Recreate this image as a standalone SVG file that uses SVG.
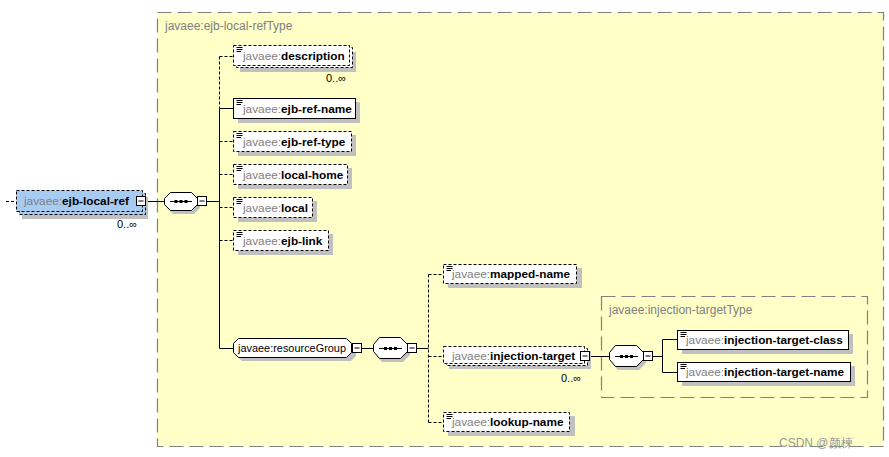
<svg xmlns="http://www.w3.org/2000/svg" width="889" height="457" viewBox="0 0 889 457">
<style>
text{font-family:"Liberation Sans",Arial,sans-serif;}
.lbl{font-size:11.8px;}
.ns{fill:#808080;}
.nm{fill:#000;font-weight:bold;}
.occ{font-size:11px;fill:#000;}
.type{font-size:12px;fill:#808080;}
.shadow{fill:#C0C0C0;stroke:none;}
.opt{fill:#fff;stroke:#000;stroke-width:1;stroke-dasharray:3 2;}
.req{fill:#fff;stroke:#000;stroke-width:1;}
.comp{fill:#fff;stroke:#000;stroke-width:1;}
.mb{fill:#fff;stroke:#000;stroke-width:1;}
.ln{stroke:#000;stroke-width:1;fill:none;}
.dl{stroke:#000;stroke-width:1;fill:none;stroke-dasharray:3 2;}
.box{fill:none;stroke:#808080;stroke-width:1.2;stroke-dasharray:14 6;}
.ic{stroke:#000;stroke-width:1;}
</style>
<defs>
<g id="icon"><path class="ic" d="M2.5 2.5H8.5M2.5 4.5H8.5M2.5 6.5H7"/></g>
<g id="minus"><rect class="mb" x="0.5" y="0.5" width="9" height="9"/><path class="ln" d="M2.5 5H7.5"/></g>
<g id="dots"><rect x="0" y="-1.5" width="3" height="3" fill="#000"/><rect x="5" y="-1.5" width="3" height="3" fill="#000"/><rect x="10" y="-1.5" width="3" height="3" fill="#000"/></g>
</defs>

<g id="type-ejb-local-refType">
<rect x="157.5" y="12.5" width="726" height="434" fill="#FFFFC8" stroke="none"/>
<rect class="box" x="157.5" y="12.5" width="726" height="434"/>
<text class="type" x="165" y="30">javaee:ejb-local-refType</text>
</g>

<g id="type-injection-targetType">
<rect class="box" x="601.5" y="296.5" width="266" height="101"/>
<text class="type" x="609" y="314">javaee:injection-targetType</text>
</g>

<g id="connectors">
<path class="dl" d="M6 201.5H16"/>
<path class="ln" d="M146 201.5H164"/>
<path class="ln" d="M207 201.5H219.5"/>
<path class="dl" d="M219.5 56.5V108.5"/>
<path class="ln" d="M219.5 108.5V348.5"/>
<path class="dl" d="M219.5 56.5H234"/>
<path class="ln" d="M219.5 108.5H234"/>
<path class="dl" d="M219.5 141.5H234M219.5 174.5H234M219.5 207.5H234M219.5 240.5H234"/>
<path class="ln" d="M219.5 348.5H233"/>
<path class="ln" d="M362 348.5H373"/>
<path class="ln" d="M417 348.5H428.5"/>
<path class="dl" d="M428.5 274.5V422.5"/>
<path class="dl" d="M428.5 274.5H443M428.5 356.5H443M428.5 422.5H443"/>
<path class="ln" d="M591 356.5H609"/>
<path class="ln" d="M653 356.5H662.5"/>
<path class="ln" d="M662.5 339.5V372.5M662.5 339.5H677M662.5 372.5H677"/>
</g>

<g id="ejb-local-ref">
<rect class="shadow" x="22" y="197" width="126" height="22"/>
<rect x="19.5" y="193.5" width="126" height="21" fill="#A8CBF2" stroke="#000" stroke-dasharray="3 2"/>
<rect x="16.5" y="190.5" width="126" height="21" fill="#A8CBF2" stroke="#000" stroke-dasharray="3 2"/>
<text class="lbl" x="24" y="205"><tspan class="ns">javaee:</tspan><tspan class="nm">ejb-local-ref</tspan></text>
<use href="#minus" x="136" y="196"/>
<text class="occ" x="117" y="228">0..∞</text>
</g>

<g id="sequence-1">
<polygon class="shadow" points="173,196 194,196 200,202 200,208 194,214 173,214 167,208 167,202"/>
<polygon class="comp" points="170.5,192.5 191.5,192.5 197.5,198.5 197.5,204.5 191.5,210.5 170.5,210.5 164.5,204.5 164.5,198.5"/>
<path class="ln" d="M170 201.5H192"/>
<use href="#dots" x="174.5" y="201.5"/>
<use href="#minus" x="197" y="196"/>
</g>

<g id="description">
<rect class="shadow" x="240" y="52" width="116" height="20"/>
<rect class="opt" x="236.5" y="47.5" width="116" height="20"/>
<rect class="opt" x="233.5" y="45.5" width="116" height="20"/>
<use href="#icon" x="234" y="45"/>
<text class="lbl" x="243" y="60"><tspan class="ns">javaee:</tspan><tspan class="nm">description</tspan></text>
<text class="occ" x="326" y="82">0..∞</text>
</g>

<g id="ejb-ref-name">
<rect class="shadow" x="238" y="102" width="122" height="21"/>
<rect class="req" x="233.5" y="98.5" width="122" height="20"/>
<use href="#icon" x="234" y="98"/>
<text class="lbl" x="243" y="113"><tspan class="ns">javaee:</tspan><tspan class="nm">ejb-ref-name</tspan></text>
</g>

<g id="ejb-ref-type">
<rect class="shadow" x="238" y="135" width="118" height="21"/>
<rect class="opt" x="233.5" y="131.5" width="118" height="20"/>
<use href="#icon" x="234" y="131"/>
<text class="lbl" x="243" y="146"><tspan class="ns">javaee:</tspan><tspan class="nm">ejb-ref-type</tspan></text>
</g>

<g id="local-home">
<rect class="shadow" x="238" y="168" width="114" height="21"/>
<rect class="opt" x="233.5" y="164.5" width="114" height="20"/>
<use href="#icon" x="234" y="164"/>
<text class="lbl" x="243" y="179"><tspan class="ns">javaee:</tspan><tspan class="nm">local-home</tspan></text>
</g>

<g id="local">
<rect class="shadow" x="238" y="201" width="79" height="21"/>
<rect class="opt" x="233.5" y="197.5" width="79" height="20"/>
<use href="#icon" x="234" y="197"/>
<text class="lbl" x="243" y="212"><tspan class="ns">javaee:</tspan><tspan class="nm">local</tspan></text>
</g>

<g id="ejb-link">
<rect class="shadow" x="238" y="234" width="95" height="21"/>
<rect class="opt" x="233.5" y="230.5" width="95" height="20"/>
<use href="#icon" x="234" y="230"/>
<text class="lbl" x="243" y="245"><tspan class="ns">javaee:</tspan><tspan class="nm">ejb-link</tspan></text>
</g>

<g id="resourceGroup">
<polygon class="shadow" points="242,342 351,342 356,347 356,356 351,361 242,361 237,356 237,347"/>
<polygon class="comp" points="238.5,338.5 346.5,338.5 351.5,343.5 351.5,352.5 346.5,357.5 238.5,357.5 233.5,352.5 233.5,343.5"/>
<text class="lbl" x="238" y="352" fill="#000" textLength="108" lengthAdjust="spacingAndGlyphs">javaee:resourceGroup</text>
<use href="#minus" x="352" y="343"/>
</g>

<g id="sequence-2">
<polygon class="shadow" points="382,341 403,341 410,348 410,355 403,362 382,362 376,355 376,348"/>
<polygon class="comp" points="379.5,337.5 400.5,337.5 407.5,344.5 407.5,351.5 400.5,358.5 379.5,358.5 373.5,351.5 373.5,344.5"/>
<path class="ln" d="M379 348.5H402"/>
<use href="#dots" x="384" y="348.5"/>
<use href="#minus" x="407" y="343"/>
</g>

<g id="mapped-name">
<rect class="shadow" x="448" y="268" width="134" height="20"/>
<rect class="opt" x="443.5" y="264.5" width="133" height="19"/>
<use href="#icon" x="444" y="264"/>
<text class="lbl" x="452" y="278"><tspan class="ns">javaee:</tspan><tspan class="nm">mapped-name</tspan></text>
</g>

<g id="injection-target">
<rect class="shadow" x="449" y="351" width="142" height="18"/>
<rect class="opt" x="446.5" y="348.5" width="141" height="17"/>
<rect class="opt" x="443.5" y="346.5" width="141" height="17"/>
<text class="lbl" x="452" y="360"><tspan class="ns">javaee:</tspan><tspan class="nm">injection-target</tspan></text>
<use href="#minus" x="580" y="351"/>
<text class="occ" x="561" y="382">0..∞</text>
</g>

<g id="lookup-name">
<rect class="shadow" x="448" y="416" width="127" height="20"/>
<rect class="opt" x="443.5" y="412.5" width="126" height="19"/>
<use href="#icon" x="444" y="412"/>
<text class="lbl" x="452" y="426"><tspan class="ns">javaee:</tspan><tspan class="nm">lookup-name</tspan></text>
</g>

<g id="sequence-3">
<polygon class="shadow" points="618,349 639,349 646,356 646,363 639,370 618,370 612,363 612,356"/>
<polygon class="comp" points="615.5,345.5 636.5,345.5 643.5,352.5 643.5,359.5 636.5,366.5 615.5,366.5 609.5,359.5 609.5,352.5"/>
<path class="ln" d="M615 356.5H638"/>
<use href="#dots" x="620" y="356.5"/>
<use href="#minus" x="643" y="351"/>
</g>

<g id="injection-target-class">
<rect class="shadow" x="682" y="334" width="171" height="20"/>
<rect class="req" x="677.5" y="330.5" width="171" height="19"/>
<use href="#icon" x="678" y="330"/>
<text class="lbl" x="686" y="344"><tspan class="ns">javaee:</tspan><tspan class="nm">injection-target-class</tspan></text>
</g>

<g id="injection-target-name">
<rect class="shadow" x="682" y="366" width="173" height="20"/>
<rect class="req" x="677.5" y="362.5" width="173" height="19"/>
<use href="#icon" x="678" y="362"/>
<text class="lbl" x="686" y="376"><tspan class="ns">javaee:</tspan><tspan class="nm">injection-target-name</tspan></text>
</g>

<text x="779" y="447" font-size="12" fill="#9A9A9A" font-family="'Liberation Sans','Noto Sans CJK SC',sans-serif">CSDN @颜楝</text>
</svg>
